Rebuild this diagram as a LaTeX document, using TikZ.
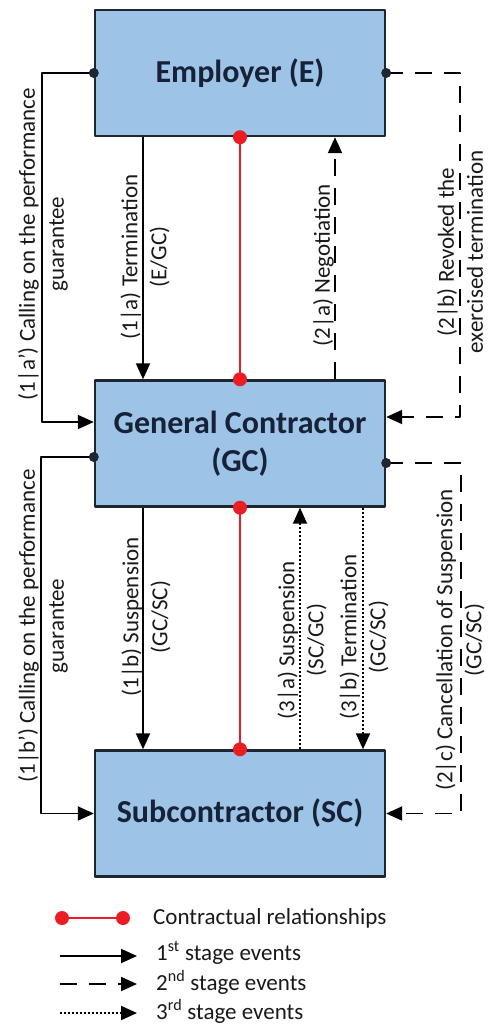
\documentclass[tikz,border=0pt]{standalone}
\usepackage{fontspec}
\setmainfont{Carlito}
\usetikzlibrary{arrows.meta}

\definecolor{boxfill}{RGB}{157,195,230}
\definecolor{boxline}{RGB}{30,38,50}
\definecolor{headtxt}{RGB}{22,34,56}
\definecolor{relred}{RGB}{236,28,36}

\tikzset{
  party/.style={draw=boxline, fill=boxfill, line width=2.4pt, minimum width=290pt, minimum height=126pt,
    inner sep=0pt, align=center, text=headtxt, font=\fontsize{32}{38}\selectfont\bfseries},
  ev/.style={draw=black, line width=1.9pt, -{Triangle[length=16pt,width=14pt]}},
  first/.style={ev},
  second/.style={ev, dash pattern=on 17pt off 12pt},
  third/.style={ev, dash pattern=on 2pt off 2pt},
  rel/.style={draw=relred, line width=2.6pt},
  lbl/.style={font=\fontsize{23}{29}\selectfont, align=center, text=black!90, inner sep=1pt},
}

\begin{document}
\begin{tikzpicture}[x=1pt, y=-1pt, line join=round]
  \useasboundingbox (0,0) rectangle (490,1026);

  % the three parties
  \node[party] (E)  at (240,73)    {Employer (E)};
  \node[party] (GC) at (240,443.5) {General Contractor\\(GC)};
  \node[party] (SC) at (240,813.5) {Subcontractor (SC)};
  \coordinate (GCw) at ([yshift=-13.5pt]GC.west);
  \coordinate (GCe) at ([yshift=-19.5pt]GC.east);

  % contractual relationships
  \draw[rel] (E.south) -- (GC.north);
  \draw[rel] (GC.south) -- (SC.north);
  \foreach \p in {E.south, GC.north, GC.south, SC.north}
    \fill[relred] (\p) circle (7pt);

  % side loops
  \draw[first] (E.west) -- (E.west -| 42,0) |- ([yshift=21.5pt]GC.west);
  \draw[first] (GCw) -- ++(-53,0) |- (SC.west);
  \draw[second] (E.east) -- (E.east -| 460,0) |- ([yshift=26.5pt]GC.east);
  \draw[second] (GCe) -- ++(75,0) |- (SC.east);
  \foreach \p in {E.west, E.east, GCw, GCe}
    \fill[boxline] (\p) circle (5pt);

  % vertical events
  \draw[first]  (E.south -| 143,0)  -- (GC.north -| 143,0);
  \draw[second] (GC.north -| 335,0) -- (E.south -| 335,0);
  \draw[first]  (GC.south -| 143,0) -- (SC.north -| 143,0);
  \draw[third]  (SC.north -| 300,0) -- (GC.south -| 300,0);
  \draw[third]  (GC.south -| 363,0) -- (SC.north -| 363,0);

  % event labels
  \node[lbl, rotate=90] (aCall) at (43,244)  {(1|a') Calling on the performance\\guarantee};
  \node[lbl, rotate=90] (aTerm) at (145,257) {(1|a) Termination\\(E/GC)};
  \node[lbl, rotate=90, anchor=south] (aNeg) at (335,265) {(2|a) Negotiation};
  \node[lbl, rotate=90] (aRev)  at (460,252) {(2|b) Revoked the\\exercised termination};
  \node[lbl, rotate=90] (bCall) at (43,626)  {(1|b') Calling on the performance\\guarantee};
  \node[lbl, rotate=90] (bSusp) at (146,617) {(1|b) Suspension\\(GC/SC)};
  \node[lbl, rotate=90] (cSusp) at (302,640) {(3|a) Suspension\\(SC/GC)};
  \node[lbl, rotate=90] (cTerm) at (364,637) {(3|b) Termination\\(GC/SC)};
  \node[lbl, rotate=90] (bCanc) at (460,640) {(2|c) Cancellation of Suspension\\(GC/SC)};

  % legend
  \draw[rel] (62,918) -- (123,918);
  \fill[relred] (62,918) circle (7pt) (123,918) circle (7pt);
  \draw[first]  (60,956)  -- (137,956);
  \draw[second] (60,984)  -- (137,984);
  \draw[third]  (60,1013) -- (137,1013);
  \node[lbl, anchor=west] (kRel) at (152,918)  {Contractual relationships};
  \node[lbl, anchor=west] (kOne) at (155,953)  {1\textsuperscript{st} stage events};
  \node[lbl, anchor=west] (kTwo) at (155,982)  {2\textsuperscript{nd} stage events};
  \node[lbl, anchor=west] (kThr) at (155,1011) {3\textsuperscript{rd} stage events};
\end{tikzpicture}
\end{document}
